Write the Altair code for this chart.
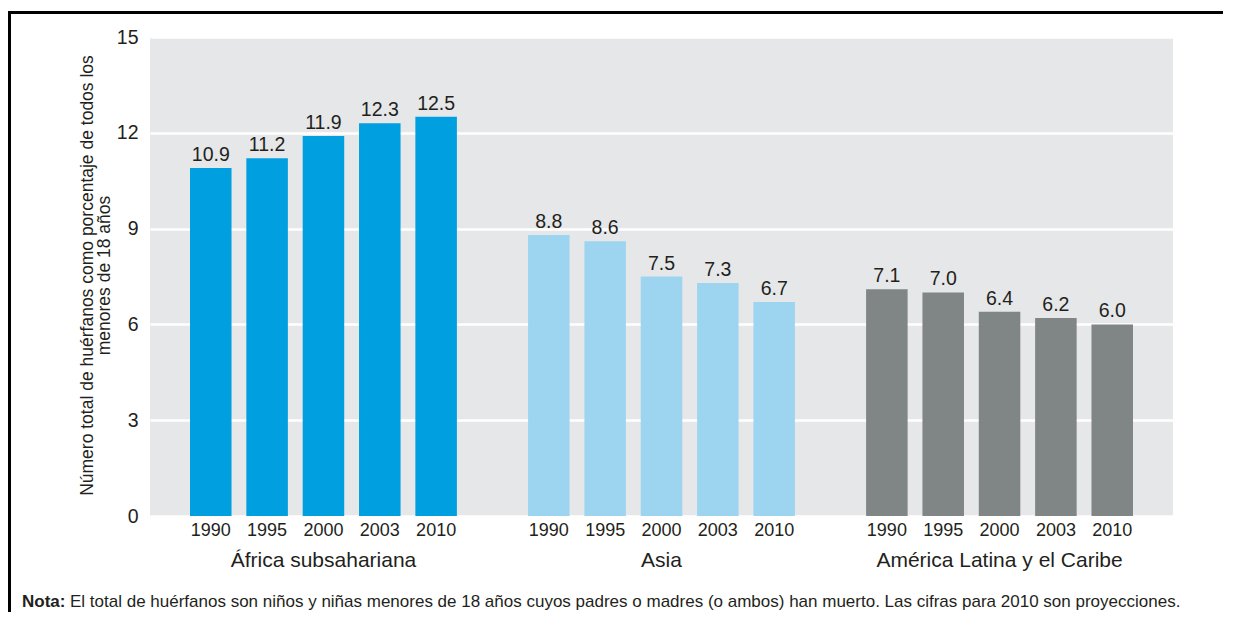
import altair as alt
import pandas as pd

regions = ["África subsahariana", "Asia", "América Latina y el Caribe"]
years = ["1990", "1995", "2000", "2003", "2010"]
africa = [10.9, 11.2, 11.9, 12.3, 12.5]
asia = [8.8, 8.6, 7.5, 7.3, 6.7]
america = [7.1, 7.0, 6.4, 6.2, 6.0]
colors = ["#009FDF", "#9DD5F1", "#7F8685"]
y_title = ["Número total de huérfanos como porcentaje de todos los", "menores de 18 años"]
note_bold = "Nota:"
note_text = "El total de huérfanos son niños y niñas menores de 18 años cuyos padres o madres (o ambos) han muerto. Las cifras para 2010 son proyecciones."

FONT = "Liberation Sans"
TXT = "#231F20"
W, H = 1023, 479

rows = []
for reg, vals in zip(regions, [africa, asia, america]):
    for yr, v in zip(years, vals):
        rows.append({"region": reg, "year": yr, "key": reg + "|" + yr, "value": v})
df = pd.DataFrame(rows)

domain = []
for i, reg in enumerate(regions):
    domain += [reg + "|" + yr for yr in years]
    if i < len(regions) - 1:
        domain.append("spacer" + str(i))

xscale = alt.Scale(domain=domain, paddingInner=0.263, paddingOuter=0.71)
xenc = alt.X("key:N", scale=xscale, sort=domain,
             axis=alt.Axis(title=None, labelExpr="indexof(datum.value,'|')>=0 ? split(datum.value,'|')[1] : ''",
                           labelAngle=0, labelFontSize=18, labelColor=TXT, labelFont=FONT,
                           labelPadding=5, ticks=False, domain=False, grid=False))
yscale = alt.Scale(domain=[0, 15], nice=False)

base = alt.Chart(df)

bars = base.mark_bar().encode(
    x=xenc,
    y=alt.Y("value:Q", scale=yscale,
            axis=alt.Axis(title=y_title, values=[0, 3, 6, 9, 12, 15], grid=True, gridColor="white",
                          gridWidth=2.5, domain=False, ticks=False, labelFontSize=19.5, labelColor=TXT,
                          labelFont=FONT, labelPadding=12, titleFont=FONT, titleFontSize=17.5,
                          titleFontWeight="normal", titleColor=TXT, titleLineHeight=17,
                          titleAngle=270, titleX=-63, titleY=238, titleBaseline="middle",
                          titleAlign="center")),
    color=alt.Color("region:N", scale=alt.Scale(domain=regions, range=colors), legend=None),
)

labels = base.mark_text(baseline="bottom", dy=-3, fontSize=19.5, font=FONT, color=TXT).encode(
    x=alt.X("key:N", scale=xscale, sort=domain),
    y=alt.Y("value:Q", scale=yscale),
    text=alt.Text("value:Q", format=".1f"),
)

region_df = pd.DataFrame({"key": [r + "|" + years[2] for r in regions], "region": regions})
region_labels = alt.Chart(region_df).mark_text(baseline="middle", fontSize=21, font=FONT, color=TXT).encode(
    x=alt.X("key:N", scale=xscale, sort=domain),
    y=alt.value(H + 45),
    text="region:N",
)

one = pd.DataFrame({"a": [0]})
note1 = alt.Chart(one).mark_text(align="left", baseline="middle", fontSize=17, font=FONT,
                                 fontWeight="bold", color=TXT).encode(
    x=alt.value(22 - 150), y=alt.value(602 - 37), text=alt.value(note_bold))
note2 = alt.Chart(one).mark_text(align="left", baseline="middle", fontSize=17, font=FONT,
                                 color=TXT).encode(
    x=alt.value(70 - 150), y=alt.value(602 - 37), text=alt.value(note_text))

frame_top = alt.Chart(one).mark_rule(color="black", strokeWidth=3).encode(
    x=alt.value(-141), x2=alt.value(W + 60), y=alt.value(12.5 - 37), y2=alt.value(12.5 - 37))
frame_left = alt.Chart(one).mark_rule(color="black", strokeWidth=3).encode(
    x=alt.value(-140.5), x2=alt.value(-140.5), y=alt.value(11 - 37), y2=alt.value(H + 120))

chart = alt.layer(bars, labels, region_labels, note1, note2, frame_top, frame_left).properties(
    width=W, height=H,
    autosize=alt.AutoSizeParams(type="none"),
    padding={"left": 142, "top": 29, "right": 50, "bottom": 96},
    background="white",
).configure_view(fill="#E6E7E8", strokeWidth=0)

chart.save("out.html", embed_options={"renderer": "svg", "actions": False})
